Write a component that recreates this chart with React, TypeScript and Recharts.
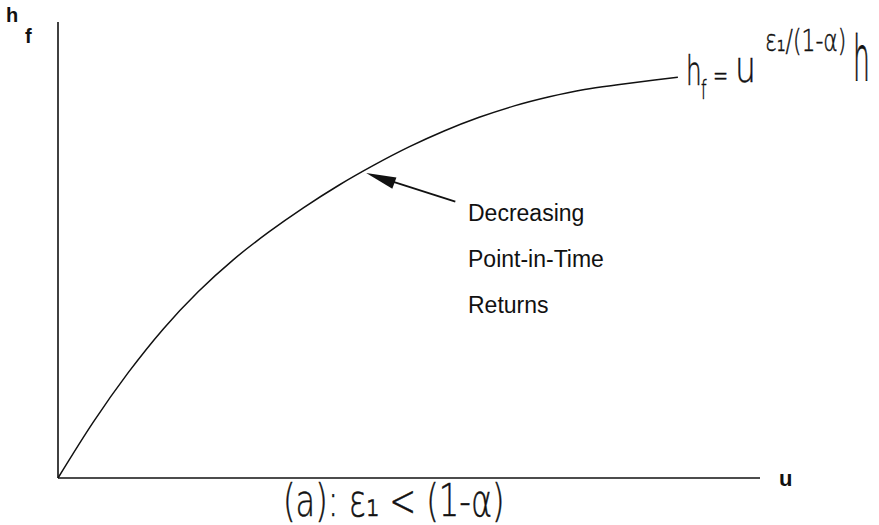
import { ComposedChart, Line, ReferenceLine, Scatter, XAxis, YAxis } from "recharts";

// curve (u along the x axis, h_f up the y axis, both 0-100)
const curveU = [0, 5, 10, 15, 20, 25, 30, 35, 40, 45, 50, 55, 60, 65, 70, 75, 80, 85, 88.3];
const curveH = [0, 12.2, 23.1, 32.7, 40.9, 47.9, 53.9, 59.3, 64.2, 68.6, 72.6, 76.1, 79.1, 81.6, 83.6, 85.2, 86.3, 87.3, 87.9];

const arrowTail = { u: 56.6, h: 60.6 };
const arrowTip = { u: 43.9, h: 66.9 };

const noteLines = ["Decreasing", "Point-in-Time", "Returns"];

const curve = curveU.map((u, i) => ({ u, h: curveH[i] }));

const W = 879;
const H = 525;
const ink = "#111";
const hand = {
  fontFamily: "'DejaVu Sans'",
  fontWeight: 200,
  fill: ink,
  stroke: ink,
} as const;
const print = { fontFamily: "'Liberation Sans', Arial, sans-serif", fill: ink } as const;

const ArrowHead = ({ cx, cy }: { cx?: number; cy?: number }) => {
  if (cx == null || cy == null) return null;
  return (
    <path
      d={`M${cx},${cy} L${cx + 30},${cy - 6} L${cx + 30},${cy + 6} Z`}
      fill={ink}
      transform={`rotate(20 ${cx} ${cy})`}
    />
  );
};

// handwritten glyphs are tall and narrow, so squeeze them with a transform
const Hand = ({
  x,
  y,
  size,
  sx,
  sy = 1,
  children,
}: {
  x: number;
  y: number;
  size: number;
  sx: number;
  sy?: number;
  children: string;
}) => (
  <text
    x={0}
    y={0}
    fontSize={size}
    transform={`translate(${x} ${y}) scale(${sx} ${sy})`}
    {...hand}
    strokeWidth={0.35 / sx}
  >
    {children}
  </text>
);

export default function App() {
  return (
    <div style={{ position: "absolute", left: 0, top: 0, width: W, height: H, background: "#fff" }}>
      <ComposedChart
        width={W}
        height={H}
        margin={{ top: 22, right: 119, bottom: 47, left: 58 }}
      >
        <XAxis type="number" dataKey="u" domain={[0, 100]} hide />
        <YAxis type="number" dataKey="h" domain={[0, 100]} hide />
        {/* axes drawn as plain lines through the origin */}
        <ReferenceLine y={0} stroke={ink} strokeWidth={1.6} ifOverflow="visible" />
        <ReferenceLine x={0} stroke={ink} strokeWidth={1.6} ifOverflow="visible" />
        <Line
          data={curve}
          dataKey="h"
          type="monotone"
          stroke={ink}
          strokeWidth={1.5}
          dot={false}
          isAnimationActive={false}
        />
        <ReferenceLine
          segment={[
            { x: arrowTail.u, y: arrowTail.h },
            { x: arrowTip.u + 3, y: arrowTip.h - 1.5 },
          ]}
          stroke={ink}
          strokeWidth={1.8}
        />
        <Scatter data={[arrowTip]} dataKey="h" shape={<ArrowHead />} isAnimationActive={false} />
      </ComposedChart>

      <svg
        width={W}
        height={H}
        style={{ position: "absolute", left: 0, top: 0, pointerEvents: "none" }}
      >
        {/* axis labels */}
        <text x={6} y={22} fontSize={20} fontWeight="bold" {...print}>h</text>
        <text x={25} y={43} fontSize={20} fontWeight="bold" {...print}>f</text>
        <text x={779} y={486} fontSize={22} fontWeight="bold" {...print}>u</text>

        {/* annotation */}
        {noteLines.map((t, i) => (
          <text key={t} x={468} y={221 + i * 46} fontSize={23} {...print}>
            {t}
          </text>
        ))}

        {/* handwritten formula */}
        <Hand x={686} y={85} size={40} sx={0.62}>h</Hand>
        <Hand x={701} y={99} size={26} sx={0.6}>f</Hand>
        <Hand x={713} y={86} size={30} sx={0.6}>=</Hand>
        <Hand x={735} y={82} size={44} sx={0.75}>u</Hand>
        <Hand x={765} y={51} size={30} sx={0.73}>ε₁/(1-α)</Hand>
        <Hand x={853} y={80} size={46} sx={0.58} sy={1.35}>h</Hand>

        {/* handwritten caption */}
        <Hand x={283} y={516} size={44} sx={0.73}>(a): ε₁ &lt; (1-α)</Hand>
      </svg>
    </div>
  );
}
